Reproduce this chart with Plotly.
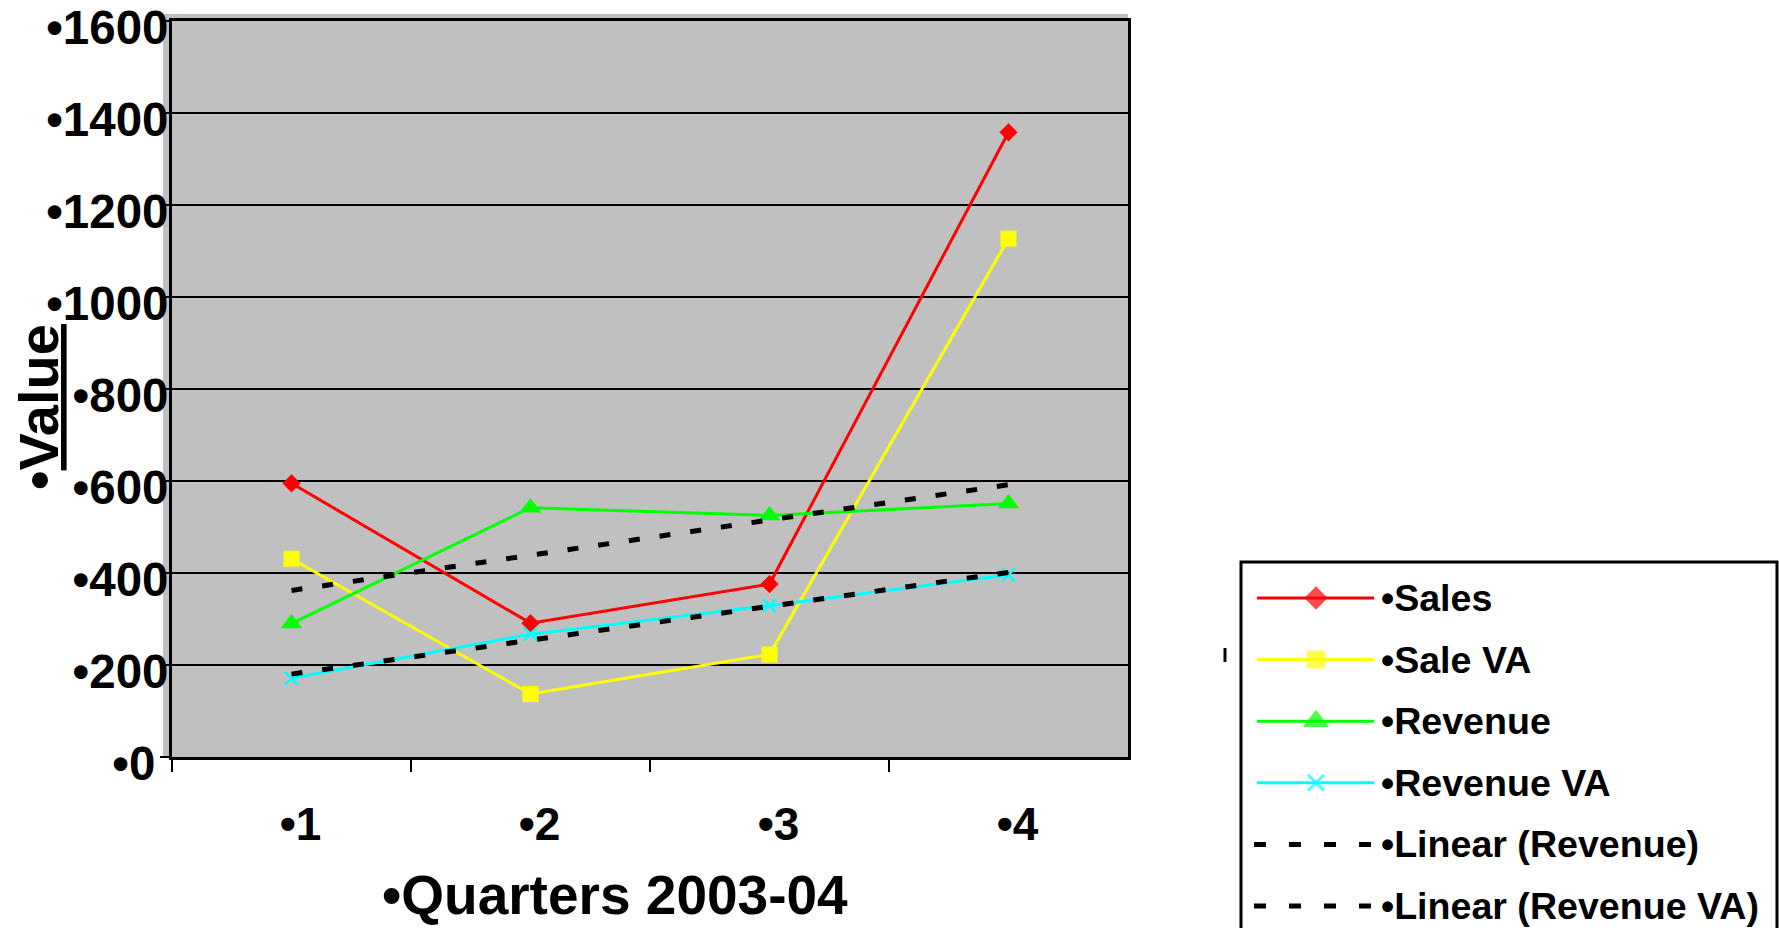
import numpy as np
import plotly.graph_objects as go

# Quarterly figures, 2003-04
quarters = [1, 2, 3, 4]
sales = [595, 291, 376, 1358]
sale_va = [431, 137, 223, 1127]
revenue = [290, 542, 525, 551]
revenue_va = [171, 267, 329, 396]

y_ticks = [0, 200, 400, 600, 800, 1000, 1200, 1400, 1600]
x_labels = ["•" + str(q) for q in quarters]
# the origin label sits a little further from the axis
y_labels = ["•" + str(v) + ("\u00a0" if v == 0 else "") for v in y_ticks]

W, H = 1779, 928
FONT = "Liberation Sans, Arial, sans-serif"

# plot frame in pixels
PX0, PX1, PY0, PY1 = 172, 1128, 21, 757


def fx(px):
    return px / W


def fy(py):
    return 1 - py / H


series = [
    dict(name="Sales", y=sales, color="#FF0000", symbol="diamond", size=14, lsize=18),
    dict(name="Sale VA", y=sale_va, color="#FFFF00", symbol="square", size=16, lsize=18),
    dict(name="Revenue", y=revenue, color="#00FF00", symbol="triangle-up", size=19, lsize=23),
    dict(name="Revenue VA", y=revenue_va, color="#00FFFF", symbol="x-thin", size=13, lsize=16),
]

fig = go.Figure()

for s in series:
    thin = s["symbol"].endswith("-thin")
    fig.add_trace(go.Scatter(
        x=quarters, y=s["y"], mode="lines+markers", name=s["name"],
        line=dict(color=s["color"], width=3),
        marker=dict(symbol=s["symbol"], size=s["size"], color=s["color"],
                    line=dict(color=s["color"], width=2.5 if thin else 0)),
        showlegend=False,
    ))

# linear trendlines fitted over the quarters
trend_sources = [("Linear (Revenue)", revenue), ("Linear (Revenue VA)", revenue_va)]
for name, vals in trend_sources:
    k, b = np.polyfit(quarters, vals, 1)
    ends = [quarters[0], quarters[-1]]
    fig.add_trace(go.Scatter(
        x=ends, y=[k * q + b for q in ends],
        mode="lines", name=name, line=dict(color="black", width=5, dash="11px,20px"),
        showlegend=False,
    ))

# legend panel drawn on its own pixel-scaled axes
LX0, LX1, LY0 = 1241, 1777, 562
row_y = [598 + 61.6 * i for i in range(len(series) + len(trend_sources))]
key_x = [1257, 1316, 1374]
for i, s in enumerate(series):
    thin = s["symbol"].endswith("-thin")
    fig.add_trace(go.Scatter(
        x=key_x, y=[row_y[i]] * 3, xaxis="x2", yaxis="y2", mode="lines+markers",
        line=dict(color=s["color"], width=3),
        marker=dict(symbol=s["symbol"], size=[0, s["lsize"], 0], color=s["color"],
                    line=dict(color=s["color"], width=3 if thin else 0)),
        showlegend=False, hoverinfo="skip",
    ))
for j, (name, _) in enumerate(trend_sources):
    i = len(series) + j
    fig.add_trace(go.Scatter(
        x=[1254, 1374], y=[row_y[i]] * 2, xaxis="x2", yaxis="y2", mode="lines",
        line=dict(color="black", width=5, dash="12px,23px"),
        showlegend=False, hoverinfo="skip",
    ))

legend_names = [s["name"] for s in series] + [n for n, _ in trend_sources]
annotations = [
    dict(x=fx(1379), y=fy(ry), xref="paper", yref="paper", text="•" + n,
         xanchor="left", yanchor="middle", showarrow=False,
         font=dict(family=FONT, size=37.6, color="black", weight="bold"))
    for n, ry in zip(legend_names, row_y)
]
annotations += [
    dict(x=fx(615), y=fy(895), xref="paper", yref="paper", text="•Quarters 2003-04",
         xanchor="center", yanchor="middle", showarrow=False,
         font=dict(family=FONT, size=55, color="black", weight="bold")),
    dict(x=fx(38), y=fy(407), xref="paper", yref="paper", text="•<u>Value</u>",
         textangle=-90, xanchor="center", yanchor="middle", showarrow=False,
         font=dict(family=FONT, size=56, color="black", weight="bold")),
]

shapes = [
    # grey backdrop, offset up and to the left of the frame
    dict(type="rect", xref="paper", yref="paper", x0=fx(163), x1=fx(PX1),
         y0=fy(PY1), y1=fy(14), fillcolor="#C0C0C0", line=dict(width=0), layer="below"),
    # legend border
    dict(type="rect", xref="paper", yref="paper", x0=fx(LX0), x1=fx(LX1),
         y0=fy(H + 20), y1=fy(LY0), fillcolor="rgba(0,0,0,0)",
         line=dict(color="black", width=3)),
    dict(type="line", xref="paper", yref="paper", x0=fx(1225), x1=fx(1225),
         y0=fy(648), y1=fy(662), line=dict(color="black", width=3)),
    # longer tick at the origin
    dict(type="line", xref="paper", yref="paper", x0=fx(160), x1=fx(PX0),
         y0=fy(PY1), y1=fy(PY1), line=dict(color="black", width=2)),
]

fig.update_layout(
    width=W, height=H,
    margin=dict(l=0, r=0, t=0, b=0, pad=0, autoexpand=False),
    paper_bgcolor="white", plot_bgcolor="rgba(0,0,0,0)",
    xaxis=dict(
        domain=[fx(PX0), fx(PX1)], range=[0.5, 4.5],
        tickvals=quarters, ticktext=x_labels, ticks="",
        minor=dict(tickvals=[q - 0.5 for q in quarters], ticks="outside",
                   ticklen=12, tickwidth=2, tickcolor="black", showgrid=False),
        showgrid=False, zeroline=False,
        showline=True, linecolor="black", linewidth=3, mirror=True,
        tickfont=dict(family=FONT, size=46, color="black", weight="bold"),
        ticklabelshift=9, ticklabelstandoff=25,
        ticklabeloverflow="allow", automargin=False, fixedrange=True,
    ),
    yaxis=dict(
        domain=[fy(PY1), fy(PY0)], range=[0, 1600],
        tickvals=y_ticks, ticktext=y_labels,
        showgrid=True, gridcolor="black", gridwidth=2, zeroline=False,
        showline=True, linecolor="black", linewidth=3, mirror=True,
        ticks="outside", ticklen=5, tickwidth=2, tickcolor="black",
        tickfont=dict(family=FONT, size=47.5, color="black", weight="bold"),
        ticklabelshift=6, ticklabelstandoff=-14,
        ticklabeloverflow="allow", automargin=False, fixedrange=True,
    ),
    xaxis2=dict(domain=[fx(LX0), fx(LX1)], range=[LX0, LX1], visible=False,
                fixedrange=True, anchor="y2"),
    yaxis2=dict(domain=[0, fy(LY0)], range=[H, LY0], visible=False,
                fixedrange=True, anchor="x2"),
    annotations=annotations,
    shapes=shapes,
    showlegend=False,
)

fig.write_html("out.html")
